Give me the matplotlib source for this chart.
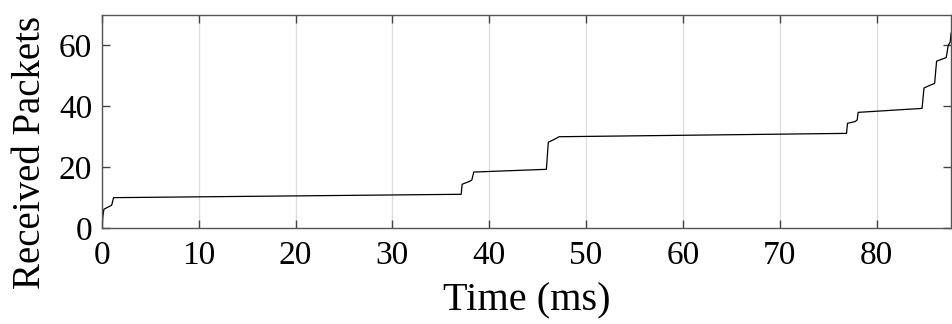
import matplotlib
matplotlib.use('Agg')
import matplotlib.pyplot as plt

# Received packets over time (step-like trace)
time_ms = [0, 0.1, 0.2, 1.0, 1.2, 1.4, 37.1, 37.2, 38.0, 38.2, 38.4, 45.9, 46.1,
           46.5, 47.0, 47.2, 76.9, 77.0, 77.8, 78.0, 78.1, 84.7, 84.9, 85.6,
           86.0, 86.2, 87.2, 87.4, 87.6, 87.7]
packets = [0, 4, 6.2, 7.5, 10, 10, 11.1, 14.4, 15.4, 15.8, 18.4, 19.3, 28.2,
           28.8, 29.6, 30, 31.1, 34.4, 35.0, 35.5, 38, 39.3, 46, 47, 47.5,
           54.8, 56, 60, 61, 64]

x_ticks = [0, 10, 20, 30, 40, 50, 60, 70, 80]
y_ticks = [0, 20, 40, 60]

plt.rcParams['font.family'] = ['Liberation Serif', 'DejaVu Serif']

fig = plt.figure(figsize=(9.53, 3.24), dpi=100)
ax = fig.add_axes([0.107, 0.296, 0.891, 0.658])

ax.plot(time_ms, packets, color='black', lw=0.9)

ax.set_xlim(0, 87.7)
ax.set_ylim(0, 70)
ax.set_xticks(x_ticks)
ax.set_yticks(y_ticks)
ax.xaxis.grid(True, color='#dddddd', lw=0.9)
ax.tick_params(direction='in', top=True, right=True, labelsize=24,
               length=6, width=1, color='#444444')
ax.tick_params(axis='x', pad=9)
ax.tick_params(axis='y', pad=7)
for s in ax.spines.values():
    s.set_color('#555555')
    s.set_linewidth(1)

ax.set_xlabel('Time (ms)', fontsize=29, labelpad=8)
# y label sits lower than the axes centre in the original, so place it by hand
fig.text(0.032, 0.53, 'Received Packets', fontsize=28, rotation=90,
         ha='center', va='center')

fig.savefig('out.png', dpi=100)
